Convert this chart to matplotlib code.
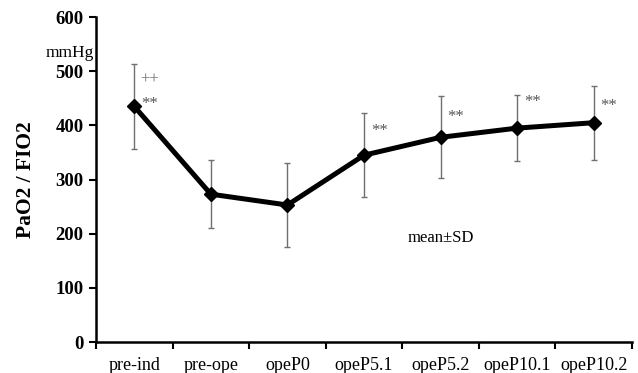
import matplotlib
matplotlib.use("Agg")
import matplotlib.pyplot as plt
import numpy as np

categories = ["pre-ind", "pre-ope", "opeP0", "opeP5.1", "opeP5.2", "opeP10.1", "opeP10.2"]
means = [435, 273, 253, 345, 378, 395, 405]
sds = [78, 63, 78, 78, 76, 61, 68]
star_labels = ["**", "", "", "**", "**", "**", "**"]
star_y = [439, None, None, 390, 415, 443, 436]
y_ticks = [0, 100, 200, 300, 400, 500, 600]

plt.rcParams['font.family'] = ['Liberation Serif', 'DejaVu Serif']

fig = plt.figure(figsize=(6.38, 3.73), dpi=100)
ax = fig.add_axes([0.1505, 0.0831, 0.840, 0.871])

x = np.arange(len(categories))
ax.errorbar(x, means, yerr=sds, fmt='none', ecolor='#707070', elinewidth=1.0,
            capsize=2.5, capthick=1.0, zorder=2)
ax.plot(x, means, color='black', lw=3.6, marker='D', markersize=7, zorder=3)

for i, (lab, yy) in enumerate(zip(star_labels, star_y)):
    if lab:
        ax.text(i + 0.2, yy, lab, color='#555555', fontsize=12, ha='center', va='center')
ax.text(0.2, 485, "++", color='#777777', fontsize=12, ha='center', va='center')
ax.text(4.0, 192, "mean±SD", fontsize=12, ha='center', va='center')

ax.set_xlim(-0.5, len(categories) - 0.5)
ax.set_ylim(0, 600)
ax.set_yticks(y_ticks)
ax.set_yticklabels([str(v) for v in y_ticks], fontsize=13.5, fontweight='bold')
ax.set_xticks(np.arange(len(categories) + 1) - 0.5)
ax.set_xticklabels([])
ax.set_xticks(x, minor=True)
ax.set_xticklabels(categories, minor=True, fontsize=13)
ax.tick_params(axis='x', which='minor', length=0, pad=11)
ax.tick_params(axis='x', which='major', length=5, width=1.5, direction='out')
ax.tick_params(axis='y', length=5, width=1.5, direction='out', pad=4)
for s in ['top', 'right']:
    ax.spines[s].set_visible(False)
for s in ['left', 'bottom']:
    ax.spines[s].set_linewidth(1.8)

ax.set_ylabel("PaO2 / FIO2", fontsize=15.5, fontweight='bold', labelpad=14)
fig.text(70 / 638, 1 - 53 / 373, "mmHg", fontsize=12.5, ha='center', va='center')

fig.savefig("out.png", dpi=100)
